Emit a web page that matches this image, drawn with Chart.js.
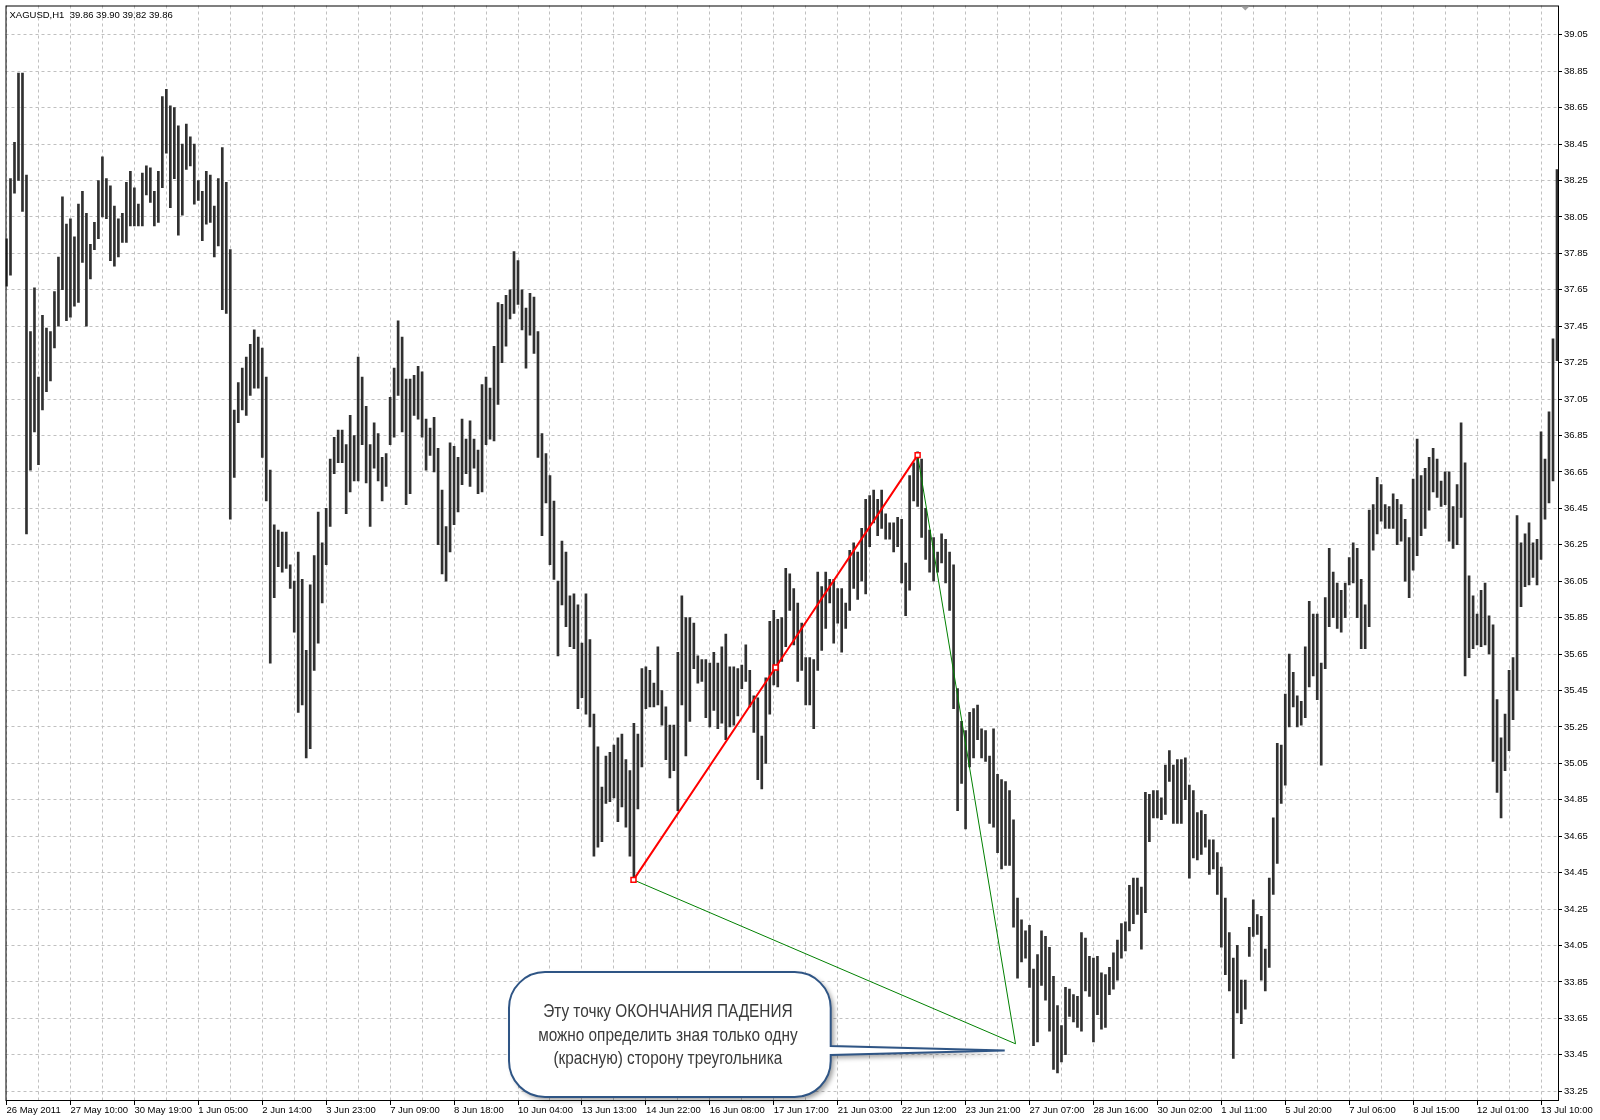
<!DOCTYPE html>
<html>
<head>
<meta charset="utf-8">
<title>XAGUSD,H1</title>
<script src="https://cdn.jsdelivr.net/npm/chart.js@4.4.1/dist/chart.umd.min.js"></script>
<style>
  html, body { margin: 0; padding: 0; background: #fff; }
  #wrap { width: 1600px; height: 1120px; }
</style>
</head>
<body>
<div id="wrap"><canvas id="chart" width="1600" height="1120"></canvas></div>
<script>
// header line of the terminal window
const symbolTitle = 'XAGUSD,H1  39.86 39.90 39.82 39.86';

// time axis labels, one every 16 plotted bars
const timeLabels = [
  '26 May 2011', '27 May 10:00', '30 May 19:00', '1 Jun 05:00', '2 Jun 14:00',
  '3 Jun 23:00', '7 Jun 09:00', '8 Jun 18:00', '10 Jun 04:00', '13 Jun 13:00',
  '14 Jun 22:00', '16 Jun 08:00', '17 Jun 17:00', '21 Jun 03:00', '22 Jun 12:00',
  '23 Jun 21:00', '27 Jun 07:00', '28 Jun 16:00', '30 Jun 02:00', '1 Jul 11:00',
  '5 Jul 20:00', '7 Jul 06:00', '8 Jul 15:00', '12 Jul 01:00', '13 Jul 10:00'
];

// price axis labels
const priceLabels = [
  '33.25', '33.45', '33.65', '33.85', '34.05', '34.25', '34.45', '34.65', '34.85', '35.05',
  '35.25', '35.45', '35.65', '35.85', '36.05', '36.25', '36.45', '36.65', '36.85', '37.05',
  '37.25', '37.45', '37.65', '37.85', '38.05', '38.25', '38.45', '38.65', '38.85', '39.05'
];

// bar highs / lows (one row = one time label period)
const barHigh = [
  37.93, 38.26, 38.46, 38.84, 38.84, 38.28, 37.42, 37.66, 37.17, 37.51, 37.44, 37.42, 37.64, 37.83, 38.16, 38.01,
  38.04, 37.94, 38.12, 38.19, 38.07, 37.90, 38.02, 38.25, 38.38, 38.26, 38.22, 38.11, 38.04, 38.07, 38.24, 38.30,
  38.21, 38.12, 38.29, 38.33, 38.32, 38.19, 38.30, 38.71, 38.75, 38.66, 38.65, 38.55, 38.45, 38.56, 38.49, 38.45,
  38.25, 38.19, 38.30, 38.28, 38.11, 38.26, 38.43, 38.24, 37.87, 36.99, 37.14, 37.22, 37.28, 37.35, 37.43, 37.39,
  37.33, 37.17, 36.66, 36.36, 36.33, 36.32, 36.32, 36.14, 36.05, 36.21, 36.06, 35.67, 36.03, 36.19, 36.43, 36.26,
  36.45, 36.72, 36.84, 36.88, 36.88, 36.80, 36.96, 36.85, 37.28, 37.17, 37.01, 36.80, 36.92, 36.86, 36.73, 36.75,
  37.06, 37.22, 37.48, 37.39, 37.16, 37.16, 37.18, 37.23, 37.20, 36.94, 36.89, 36.95, 36.78, 36.55, 36.35, 36.81,
  36.79, 36.73, 36.94, 36.83, 36.93, 36.83, 36.77, 37.13, 37.17, 37.11, 37.34, 37.58, 37.57, 37.62, 37.65, 37.86,
  37.81, 37.65, 37.55, 37.63, 37.61, 37.42, 36.86, 36.75, 36.63, 36.49, 36.05, 36.27, 36.21, 35.97, 35.98, 35.92,
  35.71, 35.98, 35.73, 35.32, 35.14, 34.92, 35.09, 35.11, 35.15, 35.19, 35.21, 35.07, 35.01, 35.27, 35.21, 35.57,
  35.58, 35.56, 35.49, 35.69, 35.45, 35.36, 35.26, 35.26, 35.66, 35.97, 35.85, 35.85, 35.82, 35.64, 35.62, 35.62,
  35.60, 35.66, 35.60, 35.69, 35.76, 35.58, 35.58, 35.57, 35.59, 35.70, 35.56, 35.42, 35.41, 35.20, 35.52, 35.83,
  35.89, 35.84, 35.85, 36.12, 36.09, 36.01, 35.93, 35.82, 35.63, 35.63, 35.62, 36.10, 36.02, 36.10, 36.06, 36.06,
  36.01, 36.01, 35.93, 36.22, 36.26, 36.21, 36.34, 36.50, 36.52, 36.55, 36.50, 36.55, 36.42, 36.37, 36.37, 36.40,
  36.39, 36.15, 36.63, 36.70, 36.76, 36.72, 36.45, 36.33, 36.29, 36.21, 36.31, 36.28, 36.21, 36.14, 35.46, 35.28,
  35.23, 35.33, 35.35, 35.37, 35.24, 35.23, 35.09, 35.24, 34.99, 34.96, 34.95, 34.90, 34.74, 34.31, 34.19, 34.13,
  34.16, 33.92, 34.00, 34.13, 34.10, 34.04, 33.88, 33.72, 33.61, 33.82, 33.81, 33.78, 33.77, 34.12, 34.09, 33.99,
  33.98, 33.99, 33.90, 33.89, 33.93, 34.01, 34.08, 34.17, 34.18, 34.38, 34.42, 34.42, 34.37, 34.89, 34.88, 34.90,
  34.90, 34.86, 35.04, 35.12, 35.04, 35.07, 35.07, 35.08, 34.93, 34.90, 34.78, 34.79, 34.77, 34.63, 34.63, 34.56,
  34.48, 34.31, 34.12, 33.98, 34.05, 33.86, 33.86, 34.15, 34.30, 34.22, 34.21, 34.03, 34.42, 34.75, 35.16, 35.15,
  35.43, 35.65, 35.55, 35.42, 35.39, 35.69, 35.94, 35.87, 35.87, 35.60, 35.96, 36.23, 36.10, 36.04, 36.00, 36.04,
  36.18, 36.26, 36.23, 36.06, 35.92, 36.44, 36.47, 36.62, 36.58, 36.47, 36.46, 36.53, 36.50, 36.47, 36.39, 36.29,
  36.61, 36.83, 36.63, 36.67, 36.73, 36.78, 36.72, 36.60, 36.65, 36.65, 36.46, 36.58, 36.92, 36.70, 36.08, 35.97,
  35.87, 36.00, 36.04, 35.86, 35.81, 35.40, 35.19, 35.32, 35.56, 35.63, 36.41, 36.26, 36.31, 36.37, 36.26, 36.28,
  36.87, 36.72, 36.98, 37.38, 38.31
];
const barLow = [
  37.67, 37.73, 38.18, 38.25, 38.08, 36.31, 36.66, 36.87, 36.69, 36.99, 37.09, 37.15, 37.33, 37.45, 37.65, 37.48,
  37.50, 37.56, 37.58, 37.80, 37.45, 37.71, 37.87, 37.93, 38.05, 38.04, 37.81, 37.78, 37.83, 37.91, 37.91, 38.00,
  38.00, 38.00, 38.00, 38.17, 38.13, 38.00, 38.02, 38.21, 38.40, 38.10, 38.26, 37.95, 38.06, 38.31, 38.33, 38.12,
  38.14, 37.92, 38.01, 38.02, 37.83, 37.89, 37.54, 37.52, 36.39, 36.62, 36.92, 36.99, 36.96, 37.07, 37.11, 37.11,
  36.73, 36.49, 35.60, 35.96, 36.13, 36.10, 36.12, 36.01, 35.77, 35.33, 35.37, 35.08, 35.13, 35.56, 35.71, 35.93,
  36.14, 36.35, 36.64, 36.70, 36.70, 36.42, 36.54, 36.60, 36.60, 36.80, 36.59, 36.35, 36.67, 36.60, 36.49, 36.57,
  36.80, 36.84, 37.07, 36.87, 36.47, 36.53, 36.96, 36.94, 36.84, 36.66, 36.74, 36.65, 36.25, 36.09, 36.05, 36.21,
  36.36, 36.43, 36.58, 36.64, 36.57, 36.67, 36.53, 36.54, 36.80, 36.83, 36.82, 37.02, 37.25, 37.34, 37.49, 37.52,
  37.57, 37.43, 37.22, 37.40, 37.30, 36.73, 36.30, 36.48, 36.14, 36.06, 35.64, 35.92, 35.80, 35.69, 35.68, 35.35,
  35.41, 35.32, 35.25, 34.54, 34.59, 34.62, 34.83, 34.84, 34.86, 34.73, 34.81, 34.70, 34.54, 34.42, 34.80, 35.03,
  35.35, 35.36, 35.36, 35.37, 35.26, 35.07, 34.97, 35.01, 34.79, 35.37, 35.09, 35.28, 35.57, 35.49, 35.50, 35.30,
  35.25, 35.34, 35.24, 35.27, 35.18, 35.25, 35.26, 35.31, 35.46, 35.50, 35.36, 35.22, 34.96, 34.91, 35.05, 35.32,
  35.48, 35.47, 35.61, 35.69, 35.89, 35.70, 35.50, 35.56, 35.37, 35.37, 35.24, 35.56, 35.67, 35.79, 35.93, 35.71,
  35.82, 35.66, 35.79, 35.89, 36.01, 35.95, 36.05, 35.98, 36.24, 36.37, 36.30, 36.34, 36.28, 36.28, 36.21, 36.24,
  36.04, 35.86, 36.00, 36.49, 36.46, 36.29, 36.17, 36.10, 36.05, 36.10, 36.15, 36.04, 35.89, 35.35, 34.79, 34.94,
  34.69, 35.03, 35.08, 35.18, 35.08, 35.06, 34.72, 34.70, 34.56, 34.47, 34.49, 34.49, 34.15, 33.87, 33.96, 33.98,
  33.82, 33.50, 33.52, 33.83, 33.75, 33.58, 33.37, 33.35, 33.41, 33.45, 33.66, 33.63, 33.60, 33.58, 33.80, 33.77,
  33.52, 33.67, 33.59, 33.60, 33.78, 33.81, 33.86, 33.98, 34.02, 34.13, 34.17, 34.22, 34.03, 34.23, 34.62, 34.75,
  34.75, 34.74, 34.77, 34.95, 34.72, 34.72, 34.72, 34.85, 34.42, 34.53, 34.52, 34.55, 34.59, 34.44, 34.47, 34.33,
  34.04, 33.89, 33.80, 33.43, 33.68, 33.62, 33.70, 33.99, 34.10, 34.11, 33.86, 33.80, 33.93, 34.33, 34.50, 34.83,
  34.93, 35.25, 35.36, 35.25, 35.26, 35.30, 35.47, 35.53, 35.40, 35.04, 35.57, 35.80, 35.85, 35.79, 35.77, 35.85,
  36.03, 36.04, 35.85, 35.68, 35.68, 35.80, 36.22, 36.31, 36.38, 36.34, 36.34, 36.34, 36.25, 36.27, 36.05, 35.96,
  36.11, 36.19, 36.30, 36.34, 36.44, 36.54, 36.51, 36.46, 36.47, 36.27, 36.23, 36.25, 36.40, 35.53, 35.63, 35.68,
  35.70, 35.69, 35.70, 35.65, 35.06, 34.89, 34.75, 35.01, 35.12, 35.29, 35.45, 35.91, 36.02, 36.03, 36.07, 36.03,
  36.17, 36.39, 36.48, 36.60, 37.26
];

// triangle drawn on the chart (bar index, price)
const redSide = [
  { x: 156.9, y: 34.41 },   // start of the rise
  { x: 192.45, y: 35.576 }, // middle point
  { x: 228.0, y: 36.742 }   // top
];
const greenSides = [
  { x: 228.0, y: 36.742 },
  { x: 252.5, y: 33.51 },   // end of the fall
  { x: 156.9, y: 34.41 }
];

const calloutLines = [
  'Эту точку ОКОНЧАНИЯ ПАДЕНИЯ',
  'можно определить зная только одну',
  '(красную) сторону треугольника'
];

// where the callout sits, in bar index / price units
const calloutBox = {
  left: 125.75, right: 206.25, top: 33.904, bottom: 33.218,
  tailTop: 33.498, tailBottom: 33.449, tipX: 249.8, tipY: 33.473
};
const shiftMarkerIndex = 310;

const LABEL_EVERY = 16;
const GRID_EVERY = 8;
const axisFont = { family: '"Liberation Sans", Arial, sans-serif', size: 9.5 };

const barPoints = barHigh.map((h, i) => ({ x: i, y: [barLow[i], h] }));

const framePlugin = {
  id: 'frame',
  afterDraw(chart) {
    const { ctx, chartArea: a } = chart;
    ctx.save();
    ctx.setLineDash([]);
    ctx.strokeStyle = '#000';
    ctx.lineWidth = 1;
    ctx.strokeRect(a.left + 0.5, a.top + 0.5, a.right - a.left, a.bottom - a.top - 1);

    // header text
    ctx.fillStyle = '#000';
    ctx.font = '9.5px ' + axisFont.family;
    ctx.textBaseline = 'alphabetic';
    ctx.textAlign = 'left';
    ctx.fillText(symbolTitle, a.left + 4, a.top + 12.5);

    // small shift marker on the top edge
    const mx = chart.scales.x.getPixelForValue(shiftMarkerIndex);
    ctx.fillStyle = '#a0a0a0';
    ctx.beginPath();
    ctx.moveTo(mx - 4, a.top + 1);
    ctx.lineTo(mx + 4, a.top + 1);
    ctx.lineTo(mx, a.top + 5);
    ctx.closePath();
    ctx.fill();
    ctx.restore();
  }
};

const calloutPlugin = {
  id: 'callout',
  afterDatasetsDraw(chart) {
    const { ctx } = chart;
    const xs = chart.scales.x, ys = chart.scales.y;
    const L = xs.getPixelForValue(calloutBox.left);
    const R = xs.getPixelForValue(calloutBox.right);
    const T = ys.getPixelForValue(calloutBox.top);
    const B = ys.getPixelForValue(calloutBox.bottom);
    const tx = xs.getPixelForValue(calloutBox.tipX);
    const ty = ys.getPixelForValue(calloutBox.tipY);
    const bt = ys.getPixelForValue(calloutBox.tailTop);
    const bb = ys.getPixelForValue(calloutBox.tailBottom);
    const r = 36;

    ctx.save();
    ctx.beginPath();
    ctx.moveTo(L + r, T);
    ctx.lineTo(R - r, T);
    ctx.arcTo(R, T, R, T + r, r);
    ctx.lineTo(R, bt);
    ctx.lineTo(tx, ty);
    ctx.lineTo(R, bb);
    ctx.lineTo(R, B - r);
    ctx.arcTo(R, B, R - r, B, r);
    ctx.lineTo(L + r, B);
    ctx.arcTo(L, B, L, B - r, r);
    ctx.lineTo(L, T + r);
    ctx.arcTo(L, T, L + r, T, r);
    ctx.closePath();
    ctx.shadowColor = 'rgba(0,0,0,0.4)';
    ctx.shadowBlur = 5;
    ctx.shadowOffsetX = 3;
    ctx.shadowOffsetY = 3;
    ctx.fillStyle = '#fff';
    ctx.fill();
    ctx.shadowColor = 'rgba(0,0,0,0)';
    ctx.lineWidth = 2;
    ctx.strokeStyle = '#2f5585';
    ctx.stroke();

    // narrow-looking text: regular sans squeezed so the first line spans ~3/4 of the box
    const fontSize = 18.5;
    ctx.font = fontSize + 'px "Liberation Sans", Arial, sans-serif';
    const w = ctx.measureText(calloutLines[0]).width;
    const squeeze = Math.min(1, (R - L) * 0.775 / w);
    ctx.fillStyle = '#3a3a3a';
    ctx.textAlign = 'center';
    ctx.textBaseline = 'middle';
    const cx = (L + R) / 2 - 2;
    const cy = (T + B) / 2 + 1;
    const lh = 23.5;
    ctx.translate(cx, cy);
    ctx.scale(squeeze, 1);
    calloutLines.forEach((line, i) => {
      ctx.fillText(line, 0, (i - 1) * lh);
    });
    ctx.restore();
  }
};

new Chart(document.getElementById('chart'), {
  type: 'bar',
  data: {
    datasets: [
      {
        type: 'line',
        data: redSide,
        borderColor: '#ff0000',
        borderWidth: 2,
        pointStyle: 'rect',
        pointRadius: 3.5,
        pointBorderWidth: 1.5,
        pointBorderColor: '#ff0000',
        pointBackgroundColor: '#ffffff',
        tension: 0,
        fill: false,
        order: 0
      },
      {
        type: 'line',
        data: greenSides,
        borderColor: '#008000',
        borderWidth: 1,
        pointRadius: 0,
        tension: 0,
        fill: false,
        order: 1
      },
      {
        type: 'bar',
        data: barPoints,
        backgroundColor: '#303030',
        borderWidth: 0,
        barThickness: 2,
        grouped: false,
        order: 2
      }
    ]
  },
  options: {
    responsive: false,
    devicePixelRatio: 1,
    animation: false,
    events: [],
    layout: { padding: { left: 4, top: 4, right: 0, bottom: 0 } },
    plugins: {
      legend: { display: false },
      tooltip: { enabled: false }
    },
    scales: {
      x: {
        type: 'linear',
        min: -0.25,
        max: 388.25,
        offset: false,
        bounds: 'data',
        afterBuildTicks: (s) => {
          const t = [];
          for (let v = 0; v < barHigh.length; v += GRID_EVERY) t.push({ value: v });
          s.ticks = t;
        },
        afterFit: (s) => { s.height = 19; s.paddingLeft = 0; s.paddingRight = 0; },
        ticks: {
          autoSkip: false,
          maxRotation: 0,
          minRotation: 0,
          align: 'start',
          padding: 0,
          color: '#000',
          font: axisFont,
          callback: (v) => (v % LABEL_EVERY === 0 ? (timeLabels[v / LABEL_EVERY] || '') : '')
        },
        grid: {
          offset: false,
          color: '#c0c0c0',
          lineWidth: 1,
          tickLength: 4,
          tickColor: (c) => (c.tick && c.tick.value % LABEL_EVERY === 0 ? '#000' : 'rgba(0,0,0,0)')
        },
        border: { display: false, dash: [3, 3] }
      },
      y: {
        type: 'linear',
        position: 'right',
        min: 33.196,
        max: 39.2106,
        bounds: 'data',
        afterBuildTicks: (s) => { s.ticks = priceLabels.map((p) => ({ value: Number(p) })); },
        afterFit: (s) => { s.width = 42; s.paddingTop = 0; s.paddingBottom = 0; },
        ticks: {
          padding: 2,
          color: '#000',
          font: axisFont,
          callback: (v, i) => priceLabels[i]
        },
        grid: {
          color: '#c0c0c0',
          lineWidth: 1,
          tickLength: 4,
          tickColor: '#000'
        },
        border: { display: false, dash: [3, 3] }
      }
    }
  },
  plugins: [framePlugin, calloutPlugin]
});
</script>
</body>
</html>
